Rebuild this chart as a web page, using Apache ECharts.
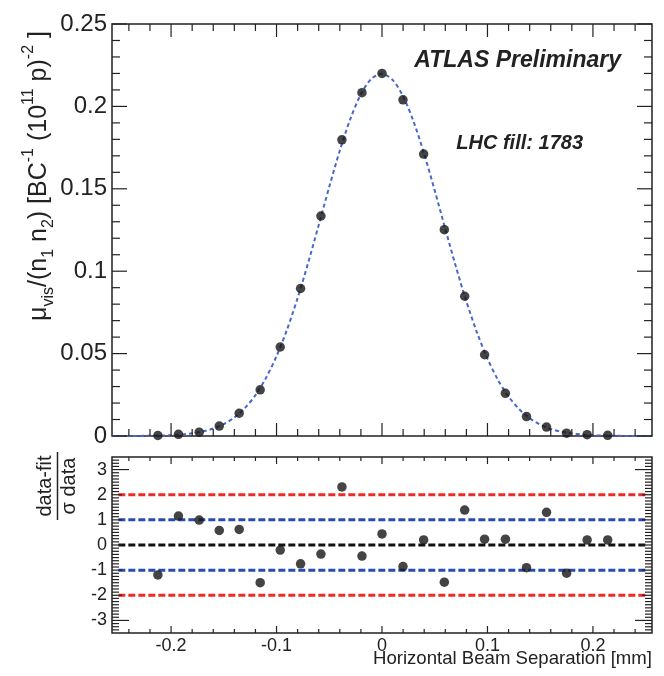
<!DOCTYPE html>
<html><head><meta charset="utf-8">
<script src="https://cdn.jsdelivr.net/npm/echarts@6/dist/echarts.min.js"></script>
<style>html,body{margin:0;padding:0;background:#fff}#c{width:664px;height:676px}</style>
</head><body><div id="c"></div>
<script>
// ---- data ----
const xVals = [-0.2125, -0.193, -0.1733, -0.1543, -0.1354, -0.1155, -0.0965, -0.0772, -0.0579, -0.038, -0.019, 0.0,
               0.0199, 0.0395, 0.0591, 0.0784, 0.0973, 0.117, 0.137, 0.156, 0.175, 0.1945, 0.214];
const rateVals = [0.0003, 0.0010, 0.0023, 0.0060, 0.0138, 0.0280, 0.0540, 0.0895, 0.1335, 0.1797, 0.2083, 0.2200,
                  0.2040, 0.1711, 0.1252, 0.0848, 0.0493, 0.0259, 0.0118, 0.0054, 0.0017, 0.0008, 0.0004];
const pullVals = [-1.19, 1.15, 0.99, 0.58, 0.62, -1.50, -0.20, -0.75, -0.36, 2.31, -0.44, 0.44,
                  -0.86, 0.20, -1.48, 1.39, 0.23, 0.23, -0.90, 1.30, -1.12, 0.20, 0.20];
// fit curve
const fitX = [-0.256, -0.25, -0.24, -0.23, -0.22, -0.21, -0.20, -0.19, -0.18, -0.17, -0.16, -0.15, -0.14, -0.13, -0.12, -0.11,
              -0.10, -0.09, -0.08, -0.07, -0.06, -0.05, -0.04, -0.03, -0.02, -0.01, 0.0, 0.01, 0.02, 0.03, 0.04, 0.05,
              0.06, 0.07, 0.08, 0.09, 0.10, 0.11, 0.12, 0.13, 0.14, 0.15, 0.16, 0.17, 0.18, 0.19, 0.20, 0.21, 0.22,
              0.23, 0.24, 0.25, 0.256];
const fitY = [0.00001, 0.00002, 0.00003, 0.00007, 0.00014, 0.00027, 0.0005, 0.00091, 0.0016, 0.00273, 0.00452, 0.00724,
              0.01125, 0.01697, 0.02482, 0.03523, 0.04847, 0.06467, 0.08373, 0.1051, 0.128, 0.1512, 0.1732, 0.1924,
              0.2074, 0.2168, 0.2198, 0.2161, 0.2061, 0.1907, 0.1711, 0.1489, 0.1257, 0.1029, 0.0817, 0.0629, 0.047,
              0.034, 0.02393, 0.01631, 0.01079, 0.00692, 0.0043, 0.00259, 0.00152, 0.00086, 0.00047, 0.00025, 0.00013,
              0.00006, 0.00003, 0.00001, 0.00001];
const refLevels = [2, 1, 0, -1, -2];
const refSpan = [-0.25, 0.25];
// ---- tick values ----
const xRange = [-0.256, 0.256];
const xMajorTicks = [-0.2, -0.1, 0, 0.1, 0.2];
const xMinorTicks = [-0.24, -0.22, -0.18, -0.16, -0.14, -0.12, -0.08, -0.06, -0.04, -0.02,
                     0.02, 0.04, 0.06, 0.08, 0.12, 0.14, 0.16, 0.18, 0.22, 0.24];
const topYRange = [0, 0.25];
const topYTicks = [0, 0.05, 0.1, 0.15, 0.2, 0.25];
const topYMinorTicks = [0.01, 0.02, 0.03, 0.04, 0.06, 0.07, 0.08, 0.09, 0.11, 0.12, 0.13, 0.14, 0.16, 0.17, 0.18, 0.19,
                        0.21, 0.22, 0.23, 0.24];
const pullRange = [-3.5, 3.5];
const pullLabelTicks = [-3, -2, -1, 0, 1, 2, 3];
const pullMidTicks = [-2, -1, 0, 1, 2];
const pullLongTicks = [-3, 3];
const pullMinorTicks = [-3.375, -3.25, -3.125, -2.875, -2.75, -2.625, -2.5, -2.375, -2.25, -2.125, -1.875, -1.75,
  -1.625, -1.5, -1.375, -1.25, -1.125, -0.875, -0.75, -0.625, -0.5, -0.375, -0.25, -0.125, 0.125, 0.25, 0.375,
  0.5, 0.625, 0.75, 0.875, 1.125, 1.25, 1.375, 1.5, 1.625, 1.75, 1.875, 2.125, 2.25, 2.375, 2.5, 2.625, 2.75,
  2.875, 3.125, 3.25, 3.375];

// ---- styling ----
const FONT = '"Liberation Sans", Arial, Helvetica, sans-serif';
const INK = '#222';
const refColors = {2: '#ee2a24', 1: '#2a4cb0', 0: '#111111', '-1': '#2a4cb0', '-2': '#ee2a24'};

function mainAxis(grid, range, label) {
  return {
    type: 'value', gridIndex: grid, min: range[0], max: range[1],
    axisLine: {show: false, onZero: false},
    axisTick: {show: false},
    axisLabel: label ? Object.assign({show: true, color: INK, fontFamily: FONT}, label) : {show: false},
    splitLine: {show: false}
  };
}

// tick marks drawn on both sides of a frame through the axes' own scales
function tickSeries(grid, dir, values, len, xr, yr) {
  return {
    type: 'custom', xAxisIndex: grid, yAxisIndex: grid, silent: true, z: 4, clip: false,
    data: values.map(v => [v]),
    renderItem: function (params, api) {
      const v = api.value(0);
      const st = {stroke: INK, lineWidth: 1.2};
      if (dir === 'x') {
        const b = api.coord([v, yr[0]]), t = api.coord([v, yr[1]]);
        return {type: 'group', children: [
          {type: 'line', shape: {x1: b[0], y1: b[1], x2: b[0], y2: b[1] - len}, style: st},
          {type: 'line', shape: {x1: t[0], y1: t[1], x2: t[0], y2: t[1] + len}, style: st}
        ]};
      }
      const l = api.coord([xr[0], v]), r = api.coord([xr[1], v]);
      return {type: 'group', children: [
        {type: 'line', shape: {x1: l[0], y1: l[1], x2: l[0] + len, y2: l[1]}, style: st},
        {type: 'line', shape: {x1: r[0], y1: r[1], x2: r[0] - len, y2: r[1]}, style: st}
      ]};
    }
  };
}

const series = [];
series.push({
  type: 'line', xAxisIndex: 0, yAxisIndex: 0, smooth: 0.3, showSymbol: false, z: 3,
  data: fitX.map((x, i) => [x, fitY[i]]),
  lineStyle: {color: '#4a66c8', width: 2, type: [4, 3]}
});
series.push({
  type: 'scatter', xAxisIndex: 0, yAxisIndex: 0, symbolSize: 9.5, z: 5,
  data: xVals.map((x, i) => [x, rateVals[i]]),
  itemStyle: {color: '#151515'}
});
refLevels.forEach(lv => {
  series.push({
    type: 'line', xAxisIndex: 1, yAxisIndex: 1, showSymbol: false, z: 3,
    data: refSpan.map(x => [x, lv]),
    lineStyle: {color: refColors[lv], width: 3, type: [7, 3]}
  });
});
series.push({
  type: 'scatter', xAxisIndex: 1, yAxisIndex: 1, symbolSize: 9.5, z: 5,
  data: xVals.map((x, i) => [x, pullVals[i]]),
  itemStyle: {color: '#151515'}
});
// ticks
series.push(tickSeries(0, 'x', xMajorTicks, 13, xRange, topYRange));
series.push(tickSeries(0, 'x', xMinorTicks, 7, xRange, topYRange));
series.push(tickSeries(0, 'y', topYTicks, 15, xRange, topYRange));
series.push(tickSeries(0, 'y', topYMinorTicks, 8, xRange, topYRange));
series.push(tickSeries(1, 'x', xMajorTicks, 7, xRange, pullRange));
series.push(tickSeries(1, 'x', xMinorTicks, 4, xRange, pullRange));
series.push(tickSeries(1, 'y', pullLongTicks, 17, xRange, pullRange));
series.push(tickSeries(1, 'y', pullMidTicks, 10, xRange, pullRange));
series.push(tickSeries(1, 'y', pullMinorTicks, 7, xRange, pullRange));

const graphic = [
  {
    type: 'text', x: 39, y: 176, rotation: Math.PI / 2,
    style: {
      text: '{m|μ}{s|vis}{m|/(n}{s|1}{m| n}{s|2}{m|) [BC}{p|-1}{m| (10}{p|11}{m| p)}{p|-2}{m| ]}',
      align: 'center', verticalAlign: 'middle', fill: INK, fontFamily: FONT, fontSize: 25,
      rich: {
        m: {fontSize: 25, fontFamily: FONT, fill: INK, lineHeight: 36, verticalAlign: 'middle'},
        s: {fontSize: 16, fontFamily: FONT, fill: INK, lineHeight: 17, verticalAlign: 'bottom'},
        p: {fontSize: 16, fontFamily: FONT, fill: INK, lineHeight: 17, verticalAlign: 'top'}
      }
    }
  },
  {
    type: 'group', x: 57.5, y: 486, rotation: Math.PI / 2,
    children: [
      {type: 'text', x: 0, y: -2, style: {text: 'data-fit', font: '20px ' + FONT, fill: INK, align: 'center', verticalAlign: 'bottom'}},
      {type: 'line', shape: {x1: -34, y1: 0, x2: 34, y2: 0}, style: {stroke: INK, lineWidth: 1.5}},
      {type: 'text', x: 0, y: 2, style: {text: 'σ data', font: '20px ' + FONT, fill: INK, align: 'center', verticalAlign: 'top'}}
    ]
  },
  {type: 'text', x: 621, y: 61, style: {text: 'ATLAS Preliminary', font: 'italic bold 23px ' + FONT, fill: INK, align: 'right', verticalAlign: 'middle'}},
  {type: 'text', x: 583, y: 143, style: {text: 'LHC fill: 1783', font: 'italic bold 20px ' + FONT, fill: INK, align: 'right', verticalAlign: 'middle'}},
  {type: 'text', x: 652, y: 659, style: {text: 'Horizontal Beam Separation [mm]', font: '18.6px ' + FONT, fill: INK, align: 'right', verticalAlign: 'middle'}}
];

const chart = echarts.init(document.getElementById('c'), null, {renderer: 'canvas'});
chart.setOption({
  animation: false,
  backgroundColor: '#ffffff',
  grid: [
    {left: 112, top: 24, width: 540, height: 412, show: true, borderColor: INK, borderWidth: 1.5, backgroundColor: 'transparent'},
    {left: 112, top: 457, width: 540, height: 176, show: true, borderColor: INK, borderWidth: 1.5, backgroundColor: 'transparent'}
  ],
  xAxis: [
    mainAxis(0, xRange),
    mainAxis(1, xRange, {customValues: xMajorTicks, fontSize: 18, margin: 4})
  ],
  yAxis: [
    mainAxis(0, topYRange, {customValues: topYTicks, fontSize: 24, margin: 5}),
    mainAxis(1, pullRange, {customValues: pullLabelTicks, fontSize: 18, margin: 5})
  ],
  series: series,
  graphic: graphic
});
</script>
</body></html>
